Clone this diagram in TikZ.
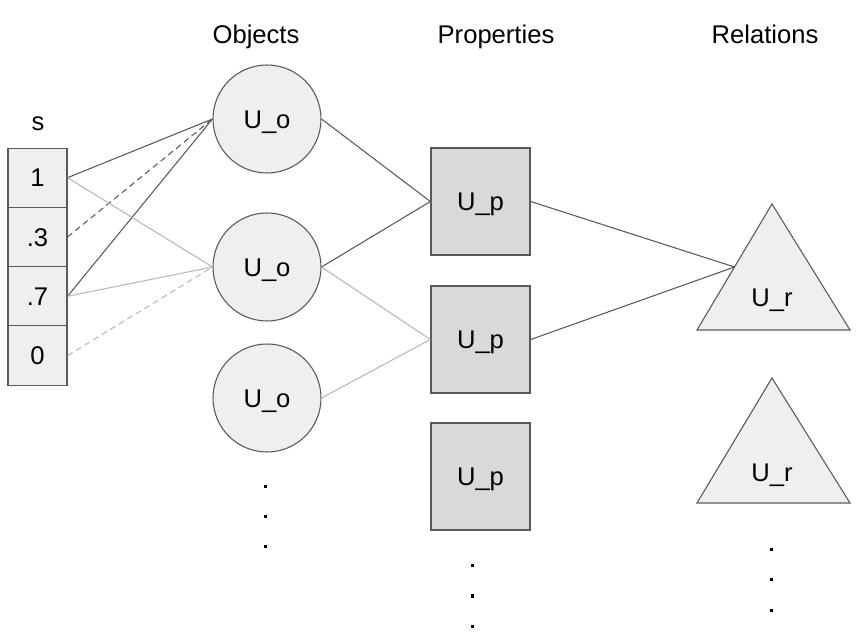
\documentclass[tikz,border=0pt]{standalone}
\usepackage{fontspec}
\setmainfont{Liberation Sans}
\definecolor{edgec}{HTML}{595959}
\definecolor{lightc}{HTML}{B7B7B7}
\definecolor{fillA}{HTML}{EFEFEF}
\definecolor{fillB}{HTML}{D9D9D9}
\begin{document}
\begin{tikzpicture}[x=0.75pt,y=-0.75pt,
  every node/.style={font=\fontsize{19.2}{23}\selectfont,text height=13.75pt,text depth=0pt},
  cell/.style={draw=edgec,fill=fillA,line width=0.8pt,minimum width=59*0.75pt,minimum height=59.3*0.75pt,inner sep=0pt},
  obj/.style={circle,draw=edgec,fill=fillA,line width=0.8pt,minimum size=108*0.75pt,inner sep=0pt},
  prop/.style={draw=edgec,fill=fillB,line width=1pt,minimum width=99*0.75pt,minimum height=107*0.75pt,inner sep=0pt},
  tri/.style={draw=edgec,fill=fillA,line width=0.8pt,line join=miter},
  darkln/.style={draw=edgec,line width=0.8pt},
  lightln/.style={draw=lightc,line width=0.8pt},
  dashln/.style={dash pattern=on 4.5pt off 3pt},
  dotn/.style={fill=black,minimum size=3*0.75pt,inner sep=0pt,text height=,text depth=}]
\useasboundingbox (0,0) rectangle (861,634);
% headers
\node (hs) at (38,121) {s};
\node (ho) at (256,34) {Objects};
\node (hp) at (496,34) {Properties};
\node (hr) at (765,34) {Relations};
% s array
\node[cell] (c1) at (37.5,177.7) {1};
\node[cell] (c2) at (37.5,237) {.3};
\node[cell] (c3) at (37.5,296.3) {.7};
\node[cell] (c4) at (37.5,355.6) {0};
% objects
\node[obj] (o1) at (267,119) {U\_o};
\node[obj] (o2) at (267,267) {U\_o};
\node[obj] (o3) at (267,398) {U\_o};
% properties
\node[prop] (p1) at (480.5,201.5) {U\_p};
\node[prop] (p2) at (480.5,339.5) {U\_p};
\node[prop] (p3) at (480.5,476.5) {U\_p};
% relations
\draw[tri] (772,204) -- (850,330) -- (697,330) -- cycle;
\node (r1) at (772,297) {U\_r};
\coordinate (r1w) at (734.5,267);
\draw[tri] (772,378) -- (850,503) -- (697,503) -- cycle;
\node (r2) at (772,472) {U\_r};
% dots
\foreach \i/\y in {1/487,2/517,3/547} \node[dotn] (do\i) at (265,\y) {};
\foreach \i/\y in {1/566,2/596,3/626} \node[dotn] (dp\i) at (472,\y) {};
\foreach \i/\y in {1/550,2/580,3/610} \node[dotn] (dr\i) at (771,\y) {};
% connectors s -> objects
\draw[darkln] (c1.east) -- (o1.west);
\draw[darkln,dashln] (c2.east) -- (o1.west);
\draw[darkln] (c3.east) -- (o1.west);
\draw[lightln] (c1.east) -- (o2.west);
\draw[lightln] (c3.east) -- (o2.west);
\draw[lightln,dashln] (c4.east) -- (o2.west);
% objects -> properties
\draw[darkln] (o1.east) -- (p1.west);
\draw[darkln] (o2.east) -- (p1.west);
\draw[lightln] (o2.east) -- (p2.west);
\draw[lightln] (o3.east) -- (p2.west);
% properties -> relations
\draw[darkln] (p1.east) -- (r1w);
\draw[darkln] (p2.east) -- (r1w);
\end{tikzpicture}
\end{document}
